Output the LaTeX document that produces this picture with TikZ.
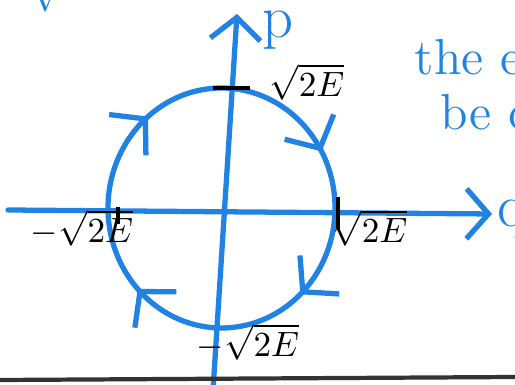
\documentclass[tikz,border=0pt]{standalone}
\usepackage{tikz}
\usetikzlibrary{arrows.meta,decorations.markings,positioning}

\definecolor{penblue}{RGB}{32,130,226}

\begin{document}
\begin{tikzpicture}[
      pen/.style={penblue,line width=1.5pt,line cap=round,line join=round},
      barb/.style={-{Straight Barb[length=2.2mm,width=5mm]}},
      tickmark/.style={black,line width=1.3pt},
      val/.style={black,font=\normalsize,inner sep=1pt},
      note/.style={penblue,font=\Large,anchor=base west,inner sep=0pt},
      orbit/.style={pen,postaction={decorate},decoration={markings,
        mark=at position 0.17 with {\arrow{Straight Barb[length=2.4mm,width=5.5mm]}},
        mark=at position 0.38 with {\arrow{Straight Barb[length=2.4mm,width=5.5mm]}},
        mark=at position 0.63 with {\arrow{Straight Barb[length=2.4mm,width=5.5mm]}},
        mark=at position 0.89 with {\arrow{Straight Barb[length=2.4mm,width=5.5mm]}}}}]

     \useasboundingbox (0,0) rectangle (5.15,3.85);
     \clip (0,0) rectangle (5.15,3.85);

     % axes
     \coordinate (qstart) at (0.08,1.75);
     \coordinate (qend)   at (4.92,1.71);
     \coordinate (pstart) at (2.13,-0.05);
     \coordinate (pend)   at (2.37,3.71);
     \draw[pen,barb] (qstart) -- (qend);
     \draw[pen,barb] (pstart) -- (pend);
     \node[penblue,font=\LARGE,inner sep=0pt,anchor=west] (q) at (4.97,1.66) {q};
     \node[penblue,font=\LARGE,inner sep=0pt] (p) at (2.78,3.55) {p};

     % orbit, run clockwise
     \coordinate (o) at (2.215,1.77);
     \coordinate (top) at (2.215,2.97);
     \draw[orbit] (top) arc[start angle=90,end angle=-270,x radius=1.135,y radius=1.2];

     % marks on the axes
     \coordinate (ptop)  at (2.215,2.97);
     \coordinate (qleft) at (1.18,1.72);
     \coordinate (qright) at (3.38,1.74);
     \draw[tickmark] ([xshift=-0.09cm]ptop) -- ([xshift=0.28cm]ptop);
     \draw[tickmark] ([yshift=0.06cm]qleft) -- ([yshift=-0.11cm]qleft);
     \draw[tickmark] ([yshift=0.14cm]qright) -- ([yshift=-0.18cm]qright);

     \node[val] (ptopval) at (3.07,3.03) {$\sqrt{2E}$};
     \node[val] (qleftval) at (0.82,1.57) {$-\sqrt{2E}$};
     \node[val] (qrightval) at (3.70,1.57) {$\sqrt{2E}$};
     \node[val] (pbotval) at (2.48,0.43) {$-\sqrt{2E}$};

     % notes cut off by the page
     \node[note] (note1) at (4.14,3.10) {the e};
     \node[note] (note2) at (4.40,2.55) {be c};
     \node[note,anchor=south west] (note0) at (0.32,3.72) {v};

     % page edge
     \coordinate (edgeleft) at (0,0.05);
     \coordinate (edgeright) at (5.15,0.08);
     \draw[black!80,line width=1.2pt] (edgeleft) -- (edgeright);
\end{tikzpicture}
\end{document}
